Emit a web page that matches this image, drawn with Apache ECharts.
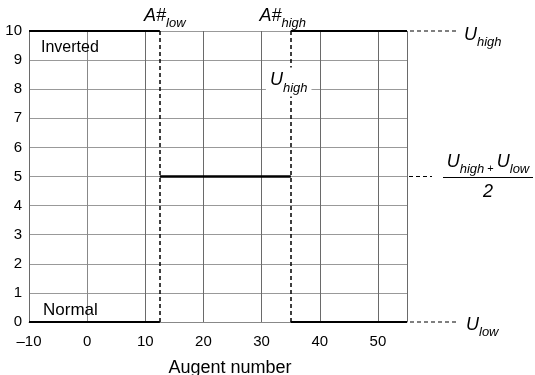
<!DOCTYPE html>
<html>
<head>
<meta charset="utf-8">
<script src="https://cdn.jsdelivr.net/npm/echarts@6/dist/echarts.min.js"></script>
<style>
  html, body { margin: 0; padding: 0; background: #fff; }
  #chart { width: 535px; height: 375px; }
</style>
</head>
<body>
<div id="chart"></div>
<script>
// Agent-number axis and output level axis
const xMin = -10, xMax = 55, xStep = 10;
const yMin = 0, yMax = 10, yStep = 1;

// Piecewise-constant output: one level per agent-number segment
const segmentStart = [-10, 12.5, 35];
const segmentEnd = [12.5, 35, 55];
const invertedLevel = [10, 5, 10];
const normalLevel = [0, 5, 0];

// Switching agents A#low and A#high
const switchAgents = [12.5, 35];
const switchNames = ['low', 'high'];

// Reference output levels
const uHigh = 10, uLow = 0, uMid = (uHigh + uLow) / 2;

const FONT = '"Liberation Sans", Arial, Helvetica, sans-serif';

const chart = echarts.init(document.getElementById('chart'), null, { renderer: 'canvas' });

function segmentSeries(levels, name) {
  return levels.map((lv, i) => ({
    name: name,
    type: 'line',
    symbol: 'none',
    silent: true,
    z: 3,
    lineStyle: { color: '#000', width: 2 },
    data: [[segmentStart[i], lv], [segmentEnd[i], lv]]
  }));
}

const series = [].concat(segmentSeries(invertedLevel, 'Inverted'), segmentSeries(normalLevel, 'Normal'));
series[0].markLine = {
  silent: true,
  symbol: 'none',
  label: { show: false },
  lineStyle: { color: '#000', width: 1.5, type: [4, 3] },
  data: switchAgents.map(a => ({ xAxis: a }))
};

chart.setOption({
  animation: false,
  backgroundColor: '#fff',
  grid: { left: 29, right: 128, top: 31, bottom: 53, containLabel: false, outerBoundsMode: 'none' },
  xAxis: {
    type: 'value', min: xMin, max: xMax, interval: xStep,
    axisLine: { show: true, lineStyle: { color: '#888', width: 1 } },
    axisTick: { show: false },
    splitLine: { show: true, lineStyle: { color: '#6a6a6a', width: 1 } },
    axisLabel: {
      color: '#000', fontSize: 15, fontFamily: FONT, margin: 12,
      formatter: v => (v === xMax ? '' : (v < 0 ? '\u2013' + (-v) : String(v)))
    },
    name: 'Augent number', nameLocation: 'middle', nameGap: 37,
    nameTextStyle: { color: '#000', fontSize: 18, fontFamily: FONT, padding: [0, 0, 0, 24] }
  },
  yAxis: {
    type: 'value', min: yMin, max: yMax, interval: yStep,
    axisLine: { show: true, lineStyle: { color: '#888', width: 1 } },
    axisTick: { show: false },
    splitLine: { show: true, lineStyle: { color: '#999', width: 1 } },
    axisLabel: { color: '#000', fontSize: 15, fontFamily: FONT, margin: 7 }
  },
  series: series
});

// Annotations placed through the axis scales
const px = (x, y) => chart.convertToPixel({ gridIndex: 0 }, [x, y]);
const richU = {
  u: { fontFamily: FONT, fontStyle: 'italic', fontSize: 18, fill: '#000', padding: [0, 0, 5, 0], verticalAlign: 'bottom' },
  s: { fontFamily: FONT, fontStyle: 'italic', fontSize: 13, fill: '#000', verticalAlign: 'bottom' },
  p: { fontFamily: FONT, fontStyle: 'normal', fontSize: 11, fill: '#000', padding: [0, 3, 2, 3], verticalAlign: 'bottom' }
};

function richText(x, y, str, align, extra) {
  return {
    type: 'text', z: 100, x: x, y: y,
    style: Object.assign({ text: str, rich: richU, align: align || 'left', verticalAlign: 'middle', fill: '#000' }, extra || {})
  };
}

function dashLine(x1, y1, x2, y2) {
  return {
    type: 'line', z: 100,
    shape: { x1: x1, y1: y1, x2: x2, y2: y2 },
    style: { stroke: '#000', lineWidth: 1.2, lineDash: [4, 3] }
  };
}

const pL = px(switchAgents[0], yMax);
const pH = px(switchAgents[1], yMax);
const pIn = px(switchAgents[1], 8.25);
const rHigh = px(xMax, uHigh);
const rMid = px(xMax, uMid);
const rLow = px(xMax, uLow);
const pInv = px(xMin, yMax);
const pNor = px(xMin, yMin);

const graphics = [
  // switching agent labels above the plot
  richText(pL[0] + 5, pL[1] - 13, '{u|A#}{s|' + switchNames[0] + '}', 'center'),
  richText(pH[0] - 8, pH[1] - 13, '{u|A#}{s|' + switchNames[1] + '}', 'center'),
  // U_high label on the A#high line
  richText(pIn[0] - 2, pIn[1], '{u|U}{s|high}', 'center', { backgroundColor: '#fff', padding: [4, 4, 2, 4] }),
  // mode labels
  { type: 'text', z: 100, x: pInv[0] + 12, y: pInv[1] + 17,
    style: { text: 'Inverted', font: '16px ' + FONT, fill: '#000', align: 'left', verticalAlign: 'middle' } },
  { type: 'text', z: 100, x: pNor[0] + 14, y: pNor[1] - 12,
    style: { text: 'Normal', font: '17px ' + FONT, fill: '#000', align: 'left', verticalAlign: 'middle' } },
  // level leaders on the right
  dashLine(rHigh[0] + 3, rHigh[1], rHigh[0] + 51, rHigh[1]),
  richText(rHigh[0] + 57, rHigh[1] + 6, '{u|U}{s|high}', 'left'),
  dashLine(rMid[0] + 2, rMid[1], rMid[0] + 25, rMid[1]),
  richText(rMid[0] + 81, rMid[1] - 12, '{u|U}{s|high}{p|+}{u|U}{s|low}', 'center'),
  { type: 'line', z: 100, shape: { x1: rMid[0] + 36, y1: rMid[1] + 1, x2: rMid[0] + 126, y2: rMid[1] + 1 },
    style: { stroke: '#000', lineWidth: 1 } },
  { type: 'text', z: 100, x: rMid[0] + 81, y: rMid[1] + 15,
    style: { text: '2', font: 'italic 18px ' + FONT, fill: '#000', align: 'center', verticalAlign: 'middle' } },
  dashLine(rLow[0] + 3, rLow[1], rLow[0] + 51, rLow[1]),
  richText(rLow[0] + 59, rLow[1] + 5, '{u|U}{s|low}', 'left')
];

chart.setOption({ graphic: graphics });
</script>
</body>
</html>
